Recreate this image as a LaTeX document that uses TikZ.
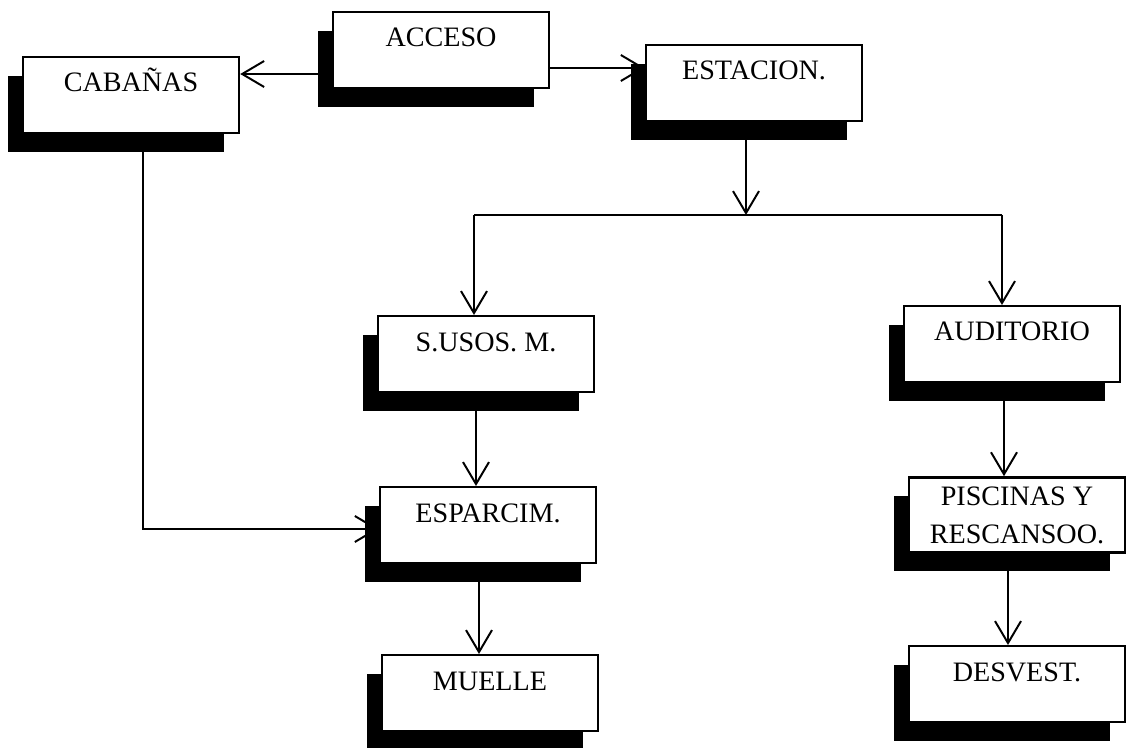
\documentclass[tikz,border=0pt]{standalone}
\usepackage{fontspec}
\setmainfont{Liberation Serif}
\usetikzlibrary{arrows.meta,shadows}

\begin{document}
\begin{tikzpicture}[x=0.025cm, y=-0.025cm,
		caja/.style={draw, fill=white, line width=1.7pt, minimum width=5.4cm,
			inner xsep=0pt, inner ysep=0.42cm, text height=0.45cm, text depth=0.6cm,
			font=\fontsize{20}{24}\selectfont,
			drop shadow={shadow xshift=-0.38cm, shadow yshift=-0.47cm, opacity=1, fill=black}},
		caja2/.style={caja, align=center, inner ysep=0pt, text height=, text depth=,
			minimum height=1.88cm, font=\fontsize{20}{27}\selectfont},
		flecha/.style={line width=1.3pt, -{Straight Barb[length=5.5mm, width=6.5mm, line width=1.4pt]}}]
	\useasboundingbox (0,0) rectangle (1126,748);
	% ---- fila superior ----
	\node[caja] (acceso) at (441,50) {ACCESO};
	\node[caja] (cabanas) at (131,95) {CABAÑAS};
	\node[caja] (estacion) at (754,83) {ESTACION.};
	% ---- rama izquierda ----
	\node[caja] (susos) at (486,354) {S.USOS. M.};
	\node[caja] (esparcim) at (488,525) {ESPARCIM.};
	\node[caja] (muelle) at (490,693) {MUELLE};
	% ---- rama derecha ----
	\node[caja] (auditorio) at (1012,344) {AUDITORIO};
	\node[caja2] (piscinas) at (1017,515) {PISCINAS Y\\RESCANSOO.};
	\node[caja] (desvest) at (1017,684) {DESVEST.};
	% ---- conectores ----
	\coordinate (ac1) at ([yshift=-0.6cm]acceso.west);
	\coordinate (ac2) at ([yshift=-0.45cm]acceso.east);
	\draw[flecha] (ac1) -- (ac1 -| cabanas.east);
	\draw[flecha] (ac2) -- (ac2 -| estacion.west);
	\coordinate (cruce) at (746,215);
	\coordinate (bi) at (474,215);
	\coordinate (bd) at (1002,215);
	\draw[flecha] ([xshift=-0.2cm]estacion.south) -- (cruce);
	\draw[line width=1.3pt] (bi) -- (bd);
	\draw[flecha] (bi) -- (bi |- susos.north);
	\draw[flecha] (bd) -- (bd |- auditorio.north);
	\coordinate (s1) at ([xshift=-0.25cm]susos.south);
	\draw[flecha] (s1) -- (s1 |- esparcim.north);
	\coordinate (e1) at ([xshift=-0.225cm]esparcim.south);
	\draw[flecha] (e1) -- (e1 |- muelle.north);
	\coordinate (a1) at ([xshift=-0.2cm]auditorio.south);
	\draw[flecha] (a1) -- (a1 |- piscinas.north);
	\coordinate (p1) at ([xshift=-0.225cm]piscinas.south);
	\draw[flecha] (p1) -- (p1 |- desvest.north);
	\draw[flecha] ([xshift=0.29cm]cabanas.south) |- ([yshift=-0.1cm]esparcim.west);
\end{tikzpicture}
\end{document}
